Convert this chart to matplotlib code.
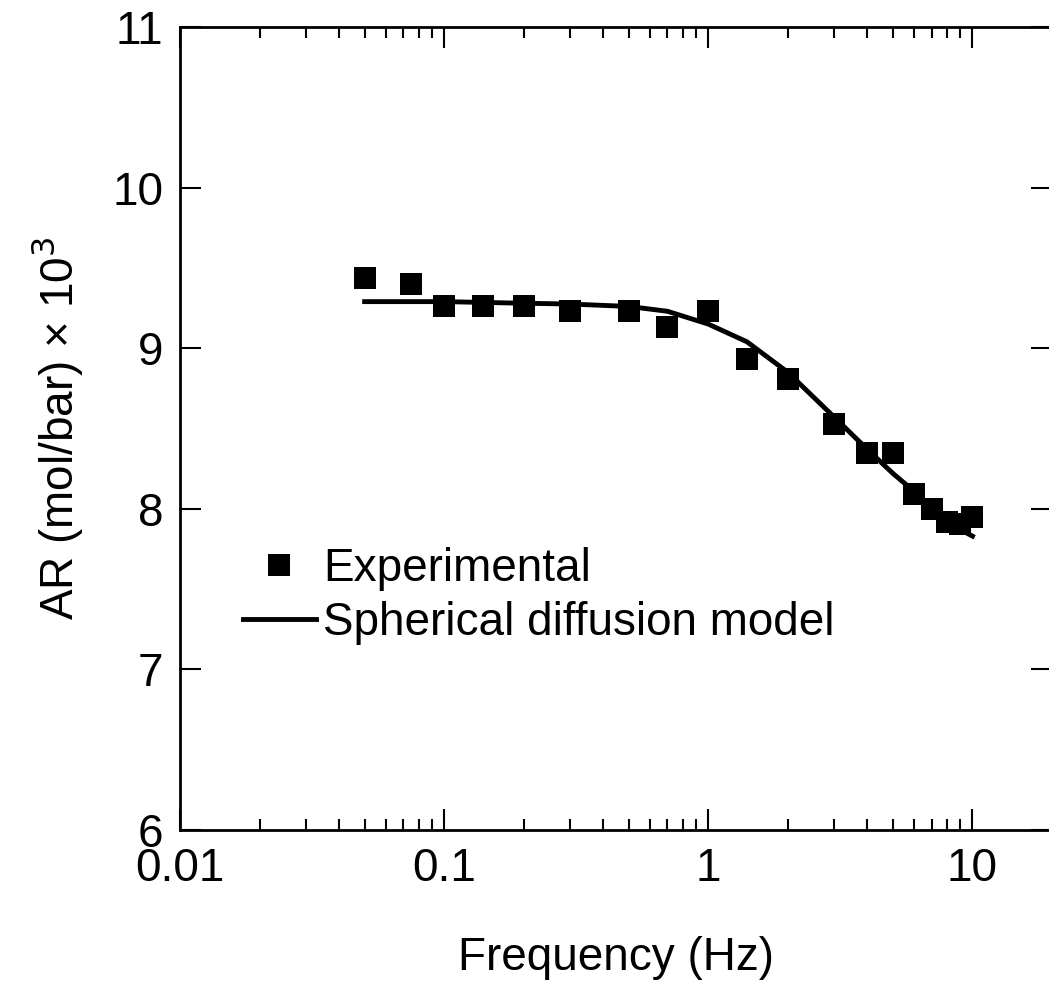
import numpy as np
import matplotlib.pyplot as plt

plt.rcParams['font.family'] = ['Liberation Sans', 'DejaVu Sans']

# experimental points
freq = [0.05, 0.075, 0.1, 0.14, 0.2, 0.3, 0.5, 0.7, 1.0, 1.4, 2.0, 3.0, 4.0, 5.0, 6.0, 7.0, 8.0, 9.0, 10.0]
ar_exp = [9.44, 9.40, 9.26, 9.26, 9.26, 9.23, 9.23, 9.13, 9.23, 8.93, 8.81, 8.53, 8.35, 8.35, 8.09, 8.00, 7.92, 7.905, 7.95]

# model curve
freq_model = [0.05, 0.075, 0.1, 0.14, 0.2, 0.3, 0.5, 0.7, 1.0, 1.4, 2.0, 3.0, 4.0, 5.0, 6.0, 7.0, 8.0, 9.0, 10.0]
ar_model = [9.29, 9.29, 9.29, 9.285, 9.28, 9.275, 9.26, 9.23, 9.15, 9.04, 8.85, 8.57, 8.37, 8.22, 8.11, 8.01, 7.93, 7.87, 7.83]

fig = plt.figure(figsize=(10.49, 9.85), dpi=100)
ax = fig.add_axes([180/1049, 155/985, 872/1049, 803/985])

ax.plot(freq, ar_exp, 's', color='black', markersize=16, markeredgewidth=0, label='Experimental')
ax.plot(freq_model, ar_model, '-', color='black', linewidth=3.5, label='Spherical diffusion model')

ax.set_xscale('log')
ax.set_xlim(0.01, 20)
ax.set_ylim(6, 11)
ax.set_yticks([6, 7, 8, 9, 10, 11])
ax.set_xticks([0.01, 0.1, 1, 10])
ax.set_xticklabels(['0.01', '0.1', '1', '10'])
ax.minorticks_off()
ax.set_xticks([k * 10.0**e for e in (-2, -1, 0) for k in range(2, 10)], minor=True)

ax.tick_params(axis='both', which='major', direction='in', length=15, width=1.5,
               labelsize=33, pad=12, top=True, right=True)
ax.tick_params(axis='x', which='minor', direction='in', length=8, width=1.5, top=True)
for s in ax.spines.values():
    s.set_linewidth(2)

ax.set_xlabel('Frequency (Hz)', fontsize=33, labelpad=33)
ax.set_ylabel('AR (mol/bar) × 10$^3$', fontsize=33, labelpad=20)

ax.legend(loc='upper left', bbox_to_anchor=(0.072, 0.352), frameon=False, fontsize=33,
          handlelength=1.6, handletextpad=0.15, labelspacing=0.22, borderpad=0, borderaxespad=0)

fig.savefig('out.png', dpi=100)
